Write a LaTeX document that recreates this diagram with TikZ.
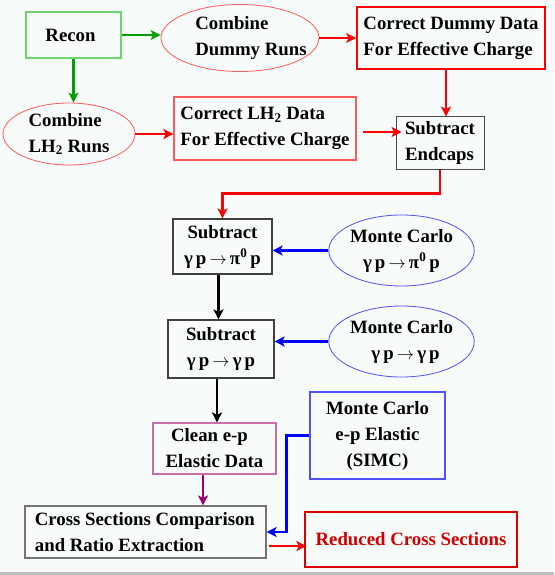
\documentclass[tikz,border=0pt]{standalone}
\usepackage{fontspec}
\setmainfont{Liberation Serif}
\usepackage{tikz}
\usetikzlibrary{arrows.meta,positioning,shapes.geometric,calc}
\definecolor{paper}{RGB}{247,251,249}
\definecolor{grass}{RGB}{0,160,0}
\definecolor{grasslight}{RGB}{110,210,110}
\definecolor{fire}{RGB}{255,0,0}
\definecolor{firelight}{RGB}{255,90,90}
\definecolor{sea}{RGB}{0,0,255}
\definecolor{sealight}{RGB}{80,80,255}
\definecolor{plum}{RGB}{160,0,120}
\definecolor{plumlight}{RGB}{200,110,170}
\definecolor{darkfire}{RGB}{210,0,0}

\tikzset{
  every node/.style={font=\fontsize{18.8}{26}\selectfont\bfseries,inner sep=0pt},
  stepbox/.style={draw=#1,rectangle,line width=1.2pt,align=center},
  oval/.style={draw=#1,ellipse,line width=0.8pt,align=left},
  flow/.style={-{Stealth[length=10pt,width=10pt,inset=2.5pt]},line width=2.6pt,draw=#1},
}

\begin{document}
\begin{tikzpicture}[x=1pt,y=-1pt]
        \useasboundingbox (0,0) rectangle (554,575);
        \fill[paper] (0,0) rectangle (554,575);
        \fill[black!25] (0,572) rectangle (554,575);
        % top row
        \node[stepbox=grasslight,minimum width=95,minimum height=46] (recon) at (73.5,35) {Recon\hspace*{6pt}};
        \node[oval=firelight,inner xsep=-11pt,minimum width=158,minimum height=67] (dummy) at (240,38) {\hspace*{22pt}Combine\\\hspace*{22pt}Dummy Runs};
        \node[stepbox=fire,line width=1.8pt,align=left,minimum width=188,minimum height=62] (cordummy) at (451,38) {Correct Dummy Data\\For Effective Charge};
        % second row
        \node[oval=firelight,minimum width=132,minimum height=62] (lhruns) at (69,134) {Combine\\LH\textsubscript{2} Runs};
        \node[stepbox=firelight,align=left,minimum width=182,minimum height=63] (corlh) at (265,128.5) {Correct LH\textsubscript{2} Data\\For Effective Charge};
        \node[stepbox=black!70,line width=1pt,align=left,minimum width=88,minimum height=52] (endcaps) at (440,143) {Subtract\\Endcaps};
        % background subtraction
        \node[stepbox=black!75,minimum width=99,minimum height=55] (subpi) at (222.5,246.5) {Subtract\\γ\,p\,$\rightarrow$\,π\textsuperscript{0}\,p};
        \node[oval=sealight,align=center,minimum width=133,minimum height=71] (mcpi) at (401.5,250.5) {Monte Carlo\\γ\,p\,$\rightarrow$\,π\textsuperscript{0}\,p};
        \node[stepbox=black!75,minimum width=106,minimum height=58] (subgam) at (221,349) {Subtract\\γ\,p\,$\rightarrow$\,γ\,p};
        \node[oval=sealight,align=center,minimum width=133,minimum height=71] (mcgam) at (401.5,341.5) {Monte Carlo\\\hspace*{8pt}γ\,p\,$\rightarrow$\,γ\,p};
        % elastic part
        \node[stepbox=plumlight,minimum width=123,minimum height=51] (clean) at (214.5,448.5) {Clean e-p\hspace*{10pt}\\Elastic Data};
        \node[stepbox=sealight,minimum width=135,minimum height=87] (simc) at (377.5,435.5) {Monte Carlo\\e-p Elastic\\(SIMC)};
        \node[stepbox=black!55,align=left,minimum width=241,minimum height=52] (cross) at (145.5,532) {Cross Sections Comparison\\and Ratio Extraction\hspace*{52pt}};
        \node[stepbox=fire!85!black,minimum width=212,minimum height=55,text=darkfire] (reduced) at (411,539.5) {Reduced Cross Sections};
        % connectors
        \draw[flow=grass] (recon.east) -- (recon.east -| dummy.west);
        \draw[flow=grass] (recon.south) -- (recon.south |- lhruns.north);
        \draw[flow=fire] (dummy.east) -- (dummy.east -| cordummy.west);
        \draw[flow=fire] (lhruns.east) -- (lhruns.east -| corlh.west);
        \draw[flow=fire] ([xshift=6pt,yshift=-3.5pt]corlh.east) -- ([xshift=6pt,yshift=-3.5pt]corlh.east -| endcaps.west);
        \draw[flow=fire] ([xshift=-5pt]cordummy.south) -- ([xshift=6pt]endcaps.north);
        \draw[flow=fire] (endcaps.south) -- ++(0,24) -| (subpi.north);
        \draw[flow=sea] (mcpi.west) -- (mcpi.west -| subpi.east);
        \draw[flow=black] ([xshift=-4pt]subpi.south) -- ([xshift=-4pt]subpi.south |- subgam.north);
        \draw[flow=sea] (mcgam.west) -- (mcgam.west -| subgam.east);
        \draw[flow=black] ([xshift=-4pt]subgam.south) -- ([xshift=-4pt]subgam.south |- clean.north);
        \draw[flow=plum] ([xshift=-11.5pt]clean.south) -- ([xshift=-11.5pt]clean.south |- cross.north);
        \draw[flow=sea] (simc.west) -- ++(-23,0) |- (cross.east);
        \draw[flow=fire] ([xshift=2pt,yshift=-14pt]cross.east) -- ([xshift=2pt,yshift=-14pt]cross.east -| reduced.west);
\end{tikzpicture}
\end{document}
